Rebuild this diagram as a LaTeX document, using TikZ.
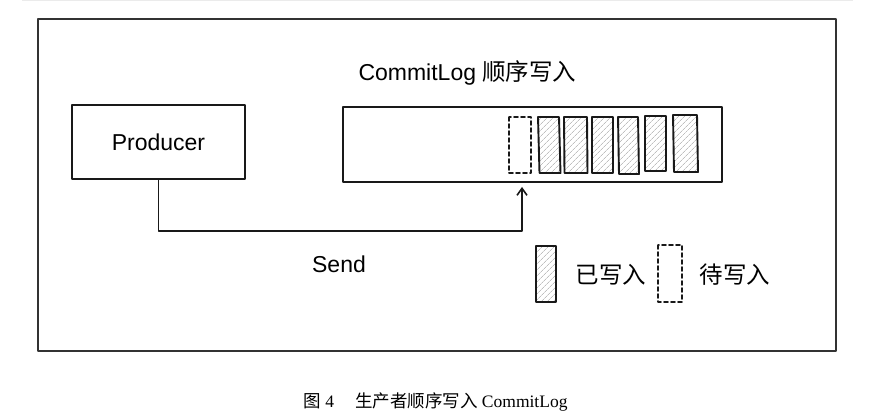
\documentclass[tikz,border=0pt]{standalone}
\usepackage{fontspec}
\setmainfont{Liberation Sans}
\newfontfamily\cjk{Noto Sans CJK SC}
\newfontfamily\capfont{Liberation Serif}
\usetikzlibrary{arrows.meta,patterns.meta}
\begin{document}
\begin{tikzpicture}[x=1pt,y=-1pt,
  sketch/.style={draw=black!90, line width=1.9pt, line join=round, line cap=round},
  box/.style={sketch, rectangle, inner sep=0pt},
  label/.style={font=\fontsize{23}{26}\selectfont, inner sep=0pt},
  cjklabel/.style={font=\fontsize{23.5}{26}\selectfont\cjk, inner sep=0pt},
  done/.style={sketch, line width=1.9pt, pattern={Lines[angle=45,distance=4pt,line width=0.7pt]}, pattern color=black!25},
  todo/.style={sketch, line width=1.6pt, dash pattern=on 4pt off 3pt},
  link/.style={sketch, line width=1.6pt, -{Straight Barb[length=7pt,width=10pt,line width=1.6pt]}}
]
\useasboundingbox (0,0) rectangle (870,419);
% faint page edge
\draw[black!8, line width=1pt] (22,1) -- (853,1);
% outer frame
\node[box, line width=2pt, draw=black!80, minimum width=798pt, minimum height=332pt] (frame) at (437,185) {};
% producer
\node[box, minimum width=173pt, minimum height=74pt, label] (prod) at (158.5,142) {Producer};
% log box
\node[box, minimum width=379pt, minimum height=75pt] (log) at (532.5,144.5) {};
\node[label] (title) at (467.5,73) {CommitLog {\cjk\fontsize{23.5}{26}\selectfont 顺序写入}};
% cells
\foreach \a/\b/\t/\bo/\s in {538/559/117/173/1.5, 564/587/117/173/0.5, 592/613/117/173/0, 618/638/117/174/1, 645/666/116/171/0, 673/697/115/172/1}{
  \draw[done] (\a,\t) -- (\b,\t) -- (\b+\s,\bo) -- (\a+\s,\bo) -- cycle;
}
\draw[todo] (509,117) rectangle (531,173);
% connector
\coordinate (turn) at (522,231);
\draw[link, shorten >=4pt] (prod.south) |- (turn) -- (turn |- log.south);
\node[label] (send) at (339,264) {Send};
% legend
\draw[done] (536,246) rectangle (556,302);
\node[cjklabel] (donetext) at (611,275) {已写入};
\draw[todo] (658,245) rectangle (682,302);
\node[cjklabel] (todotext) at (735,275) {待写入};
% caption
\node[inner sep=0pt, font=\fontsize{17.5}{20}\selectfont] (caption) at (435.5,402) {{\cjk 图}\capfont\ 4\hspace{1.2em}{\cjk 生产者顺序写入} CommitLog};
\end{tikzpicture}
\end{document}
